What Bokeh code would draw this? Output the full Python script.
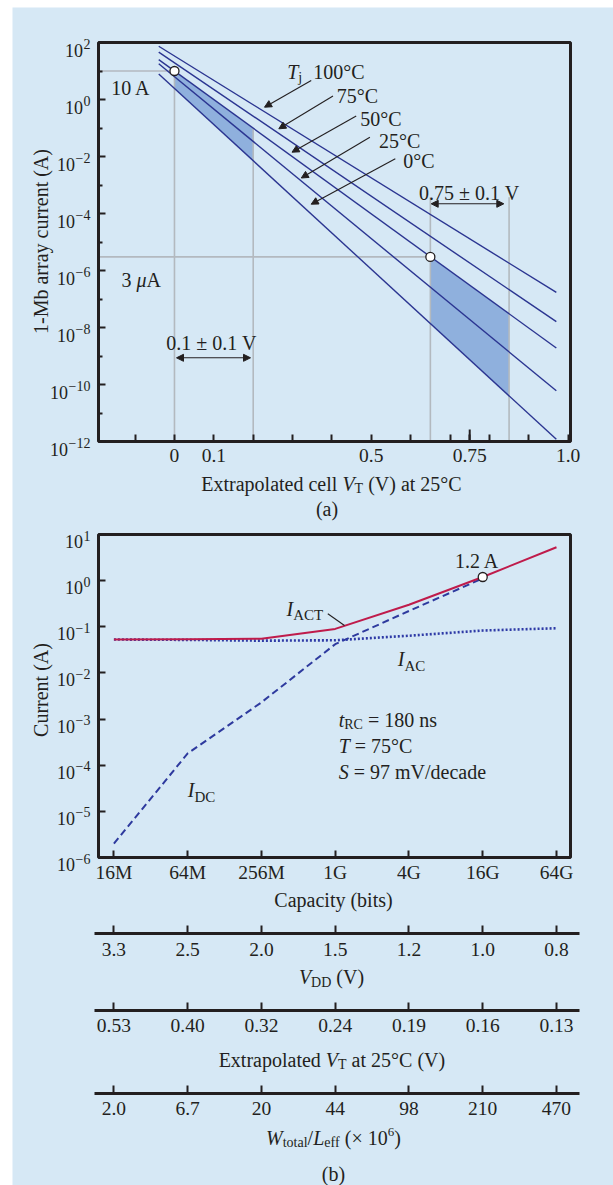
import numpy as np
from bokeh.plotting import figure
from bokeh.layouts import column
from bokeh.models import (Range1d, LogScale, FixedTicker, Label, Arrow, NormalHead,
                          LinearAxis, LogAxis)
from bokeh.embed import file_html
from bokeh.resources import INLINE

# ---------------- (a) subthreshold current of a 1-Mb array ----------------
junction_temps = ["100°C", "75°C", "50°C", "25°C", "0°C"]
vt_sweep = [-0.04, 0.97]                                   # cell V_T at both ends of each line (V)
current_at_sweep_start = [74.0, 46.0, 25.0, 18.0, 7.9]     # A
current_at_sweep_end = [1.7e-7, 1.6e-8, 1.9e-9, 6.0e-11, 1.2e-12]  # A
design_windows = [(0.0, 0.2), (0.65, 0.85)]                # 0.1 ± 0.1 V and 0.75 ± 0.1 V
window_labels = ["0.1 ± 0.1 V", "0.75 ± 0.1 V"]
point_vt = [0.0, 0.65]
point_current = [10.0, 3e-6]
a_major_ticks = [0.0, 0.1, 0.5, 0.75, 1.0]
a_major_labels = ["0", "0.1", "0.5", "0.75", "1.0"]
a_minor_ticks = [-0.1, 0.2, 0.3, 0.4, 0.6, 0.7, 0.8, 0.9]
a_decades = list(range(2, -13, -1))

# ---------------- (b) array current versus DRAM capacity ----------------
capacity = ["16M", "64M", "256M", "1G", "4G", "16G", "64G"]
i_act = [0.053, 0.054, 0.055, 0.090, 0.30, 1.2, 5.3]
i_ac = [0.053, 0.052, 0.050, 0.051, 0.064, 0.083, 0.093]
i_dc = [2.0e-6, 1.8e-4, 2.3e-3, 0.042, 0.22, 1.12]
i_act_marker = 1.2
vdd = ["3.3", "2.5", "2.0", "1.5", "1.2", "1.0", "0.8"]
vt_ext = ["0.53", "0.40", "0.32", "0.24", "0.19", "0.16", "0.13"]
w_over_l = ["2.0", "6.7", "20", "44", "98", "210", "470"]
b_decades = list(range(1, -7, -1))

BG = "#d6e8f5"
INK = "#231f20"
NAVY = "#2b3591"
SHADE = "#8fb0dd"
GUIDE = "#b3b9bf"
CRIMSON = "#bf1b4b"
SERIF = "Liberation Serif"

# page canvas (pixels) and the plot boxes of the two charts on it
CANVAS_X = (12, 613)
CANVAS_Y = (7, 1185)
BOX_A = dict(left=98, right=570, top=42, bottom=441)
BOX_B = dict(left=98, right=570, top=534, bottom=857)
XA, YA = (-0.193, 1.006), (1e-12, 1e2)
XB, YB = (-0.209, 6.19), (1e-6, 1e1)
SCALE_SPAN = (94, 578.6)
SCALE_Y = [933, 1010, 1093]

# Times-compatible advance widths (1/1000 em) for placing rich text pieces
_W = {c: 500 for c in "0123456789"}
_W.update(dict(zip("abcdefghijklmnopqrstuvwxyz",
                   [444, 500, 444, 500, 444, 333, 500, 500, 278, 278, 500, 278, 778,
                    500, 500, 500, 500, 333, 389, 278, 500, 500, 722, 500, 500, 444])))
_W.update(dict(zip("ABCDEFGHIJKLMNOPQRSTUVWXYZ",
                   [722, 667, 667, 722, 611, 556, 722, 722, 333, 389, 722, 611, 889,
                    722, 722, 556, 722, 667, 556, 611, 722, 722, 944, 722, 722, 611])))
_W.update({" ": 250, "(": 333, ")": 333, "-": 333, ".": 250, "/": 278, "=": 564,
           "±": 564, "°": 400, "×": 564, "μ": 500, "−": 564})
_WI = {"I": 333, "T": 556, "V": 611, "W": 833, "S": 500, "L": 556, "t": 278, "μ": 500}


def text_width(s, size, italic=False):
    return sum((_WI[c] if italic and c in _WI else _W.get(c, 500)) for c in s) * size / 1000.0


def line_current(k, v):
    l0 = np.log10(current_at_sweep_start[k])
    l1 = np.log10(current_at_sweep_end[k])
    t = (v - vt_sweep[0]) / (vt_sweep[1] - vt_sweep[0])
    return 10 ** (l0 + t * (l1 - l0))


def stretch(px0, px1, v0, v1, c0, c1):
    """Extend a data interval shown on pixels px0..px1 out to the canvas edges c0..c1."""
    s = (v1 - v0) / (px1 - px0)
    return v0 - (px0 - c0) * s, v1 + (c1 - px1) * s


def stretch_log(py_top, py_bottom, lo, hi):
    a, b = stretch(py_top, py_bottom, np.log10(hi), np.log10(lo), CANVAS_Y[0], CANVAS_Y[1])
    return 10 ** b, 10 ** a


ax_rng = stretch(BOX_A["left"], BOX_A["right"], XA[0], XA[1], *CANVAS_X)
ay_rng = stretch_log(BOX_A["top"], BOX_A["bottom"], *YA)
bx_rng = stretch(BOX_B["left"], BOX_B["right"], XB[0], XB[1], *CANVAS_X)
by_rng = stretch_log(BOX_B["top"], BOX_B["bottom"], *YB)


def b_index_at(px):
    return XB[0] + (px - BOX_B["left"]) / (BOX_B["right"] - BOX_B["left"]) * (XB[1] - XB[0])


p = figure(frame_width=CANVAS_X[1] - CANVAS_X[0], frame_height=CANVAS_Y[1] - CANVAS_Y[0],
           x_range=Range1d(*CANVAS_X), y_range=Range1d(CANVAS_Y[1], CANVAS_Y[0]),
           extra_x_ranges={"a_x": Range1d(*ax_rng), "b_x": Range1d(*bx_rng)},
           extra_y_ranges={"a_y": Range1d(*ay_rng), "b_y": Range1d(*by_rng)},
           extra_y_scales={"a_y": LogScale(), "b_y": LogScale()},
           x_axis_location=None, y_axis_location=None,
           output_backend="svg", toolbar_location=None, min_border=0,
           background_fill_color=BG, border_fill_color=BG, outline_line_color=None)
p.grid.visible = False
A_R = dict(x_range_name="a_x", y_range_name="a_y")
B_R = dict(x_range_name="b_x", y_range_name="b_y")


def text(px, py, s, size=20, italic=False, align="left", angle=0.0):
    lead = len(s) - len(s.lstrip(" "))
    if align == "left":
        px += text_width(" " * lead, size)
    s = s.strip(" ")
    if s:
        p.add_layout(Label(x=px, y=py, text=s, text_font=SERIF, text_font_size=f"{size}px",
                           text_font_style="italic" if italic else "normal", text_color=INK,
                           text_align=align, text_baseline="alphabetic", angle=angle))


def rich(px, py, pieces, align="left"):
    widths = [text_width(s, size, it) for s, size, it, _ in pieces]
    x = px - sum(widths) / 2 if align == "center" else px
    for (s, size, it, dy), w in zip(pieces, widths):
        text(x, py + dy, s, size, it)
        x += w


def arrow(p0, p1, both=False, heads=True):
    def head():
        return NormalHead(size=7, fill_color=INK, line_color=INK, line_width=1)
    p.add_layout(Arrow(x_start=p0[0], y_start=p0[1], x_end=p1[0], y_end=p1[1],
                       end=head() if heads else None, start=head() if both else None,
                       line_color=INK, line_width=1.1))


def decade(exp, right_px, base_py, base=18, sup=14, rise=6):
    e = str(exp).replace("-", "−")
    text(right_px, base_py - rise, e, sup, align="right")
    text(right_px - text_width(e, sup) - 0.5, base_py, "10", base, align="right")


def style_axis(ax, tick_in=7, minor_in=0, standoff=4, size="19.5px"):
    ax.axis_line_color = None
    ax.major_tick_in = tick_in
    ax.major_tick_out = 0
    ax.minor_tick_in = minor_in
    ax.minor_tick_out = 0
    ax.major_tick_line_color = INK
    ax.minor_tick_line_color = INK
    ax.major_tick_line_width = 2
    ax.minor_tick_line_width = 2
    ax.major_label_text_font = SERIF
    ax.major_label_text_font_size = size
    ax.major_label_text_color = INK
    ax.major_label_standoff = standoff


# ======================= panel (a) =======================
for v0, v1 in design_windows:
    p.patch([v0, v1, v1, v0],
            [line_current(2, v0), line_current(2, v1), line_current(4, v1), line_current(4, v0)],
            fill_color=SHADE, line_color=None, **A_R)

guide = dict(line_color=GUIDE, line_width=1.6, **A_R)
p.line([XA[0], point_vt[0]], [point_current[0]] * 2, **guide)
p.line([XA[0], point_vt[1]], [point_current[1]] * 2, **guide)
p.line([point_vt[0]] * 2, [point_current[0], YA[0]], **guide)
p.line([design_windows[0][1]] * 2, [line_current(2, design_windows[0][1]), YA[0]], **guide)
for v in design_windows[1]:
    p.line([v, v], [10 ** -3.43, YA[0]], **guide)

for k in range(len(junction_temps)):
    p.line(vt_sweep, [current_at_sweep_start[k], current_at_sweep_end[k]],
           line_color=NAVY, line_width=1.4, **A_R)

p.scatter(point_vt, point_current, size=9, marker="circle",
          fill_color="white", line_color=INK, line_width=1.3, **A_R)

xa = LinearAxis(x_range_name="a_x", fixed_location=BOX_A["bottom"], bounds=XA,
                ticker=FixedTicker(ticks=a_major_ticks, minor_ticks=a_minor_ticks),
                major_label_overrides={t: s for t, s in zip(a_major_ticks, a_major_labels)})
style_axis(xa, tick_in=7, minor_in=7, standoff=7)
p.add_layout(xa, "below")
p.segment(x0=[a_major_ticks[3]], y0=[YA[0]], x1=[a_major_ticks[3]],
          y1=[YA[0] * 10 ** (12 * 14 / 399)], line_color=INK, line_width=2, **A_R)

even = [e for e in a_decades if e % 2 == 0]
ya = LogAxis(y_range_name="a_y", fixed_location=BOX_A["left"], bounds=YA,
             ticker=FixedTicker(ticks=[10.0 ** e for e in even],
                                minor_ticks=[10.0 ** e for e in a_decades if e % 2 != 0]),
             major_label_overrides={10.0 ** e: "" for e in even})
style_axis(ya, tick_in=7, minor_in=4, standoff=0)
p.add_layout(ya, "left")
for e in even:
    decade(e, 90, BOX_A["top"] + (2 - e) * (BOX_A["bottom"] - BOX_A["top"]) / 14 + 7.5)

p.quad(left=[XA[0]], right=[XA[1]], bottom=[YA[0]], top=[YA[1]],
       fill_color=None, line_color=INK, line_width=3, **A_R)

text(40, 241, "1-Mb array current (A)", 20, align="center", angle=np.pi / 2)
rich(331, 483.3, [("Extrapolated cell ", 20, False, 0), ("V", 20, True, 0),
                  ("T", 14, False, 5), (" (V) at 25°C", 20, False, 0)], align="center")
text(326.5, 508, "(a)", 20, align="center")

text(110.7, 87.7, "10 A", 20)
rich(121, 279, [("3 ", 20, False, 0), ("μ", 20, True, 0), ("A", 20, False, 0)])
text(211, 342.7, window_labels[0], 20, align="center")
text(468.8, 192.7, window_labels[1], 20, align="center")
arrow((176, 357.3), (250, 357.3), both=True)
arrow((430.7, 203.3), (503.3, 203.3), both=True)

rich(286.7, 71.7, [("T", 20, True, 0), ("j", 14, False, 5)])
temp_label_pos = [(312.7, 71.7), (336.2, 95), (359.7, 118.3), (378.4, 140), (402.7, 160)]
temp_arrows = [((310.7, 80), (264, 106.7)), ((332.5, 95.5), (278.3, 128.3)),
               ((355.7, 115.5), (291.5, 151.7)), ((369.4, 136.7), (300.8, 177.5)),
               ((394.8, 158.3), (310.7, 203.7))]
for name, (tx, ty), (a0, a1) in zip(junction_temps, temp_label_pos, temp_arrows):
    text(tx, ty, name, 20)
    arrow(a0, a1)

# ======================= panel (b) =======================
xi = list(range(len(capacity)))
p.line(xi[:len(i_dc)], i_dc, line_color="#2e3a9e", line_width=2, line_dash="7 4", **B_R)
p.line(xi, i_ac, line_color="#2e3aa6", line_width=2.6, line_dash="2 2", **B_R)
p.line(xi, i_act, line_color=CRIMSON, line_width=2, **B_R)
p.scatter([capacity.index("16G")], [i_act_marker], size=9, marker="circle",
          fill_color="white", line_color=INK, line_width=1.3, **B_R)

xb = LinearAxis(x_range_name="b_x", fixed_location=BOX_B["bottom"], bounds=XB,
                ticker=FixedTicker(ticks=xi, minor_ticks=[]),
                major_label_overrides={i: s for i, s in zip(xi, capacity)})
style_axis(xb, tick_in=7, standoff=4)
p.add_layout(xb, "below")

yb = LogAxis(y_range_name="b_y", fixed_location=BOX_B["left"], bounds=YB,
             ticker=FixedTicker(ticks=[10.0 ** e for e in b_decades], minor_ticks=[]),
             major_label_overrides={10.0 ** e: "" for e in b_decades})
style_axis(yb, tick_in=7, standoff=0)
p.add_layout(yb, "left")
for e in b_decades:
    decade(e, 90, BOX_B["top"] + (1 - e) * (BOX_B["bottom"] - BOX_B["top"]) / 7 + 7)

p.quad(left=[XB[0]], right=[XB[1]], bottom=[YB[0]], top=[YB[1]],
       fill_color=None, line_color=INK, line_width=3, **B_R)

text(40, 689.5, "Current (A)", 20, align="center", angle=np.pi / 2)
text(333, 899, "Capacity (bits)", 20, align="center")
text(476.7, 560, f"{i_act_marker} A", 20, align="center")
rich(286, 608.3, [("I", 20, True, 0), ("ACT", 15, False, 6)])
arrow((327.3, 613.3), (344, 625), heads=False)
rich(397.3, 658.3, [("I", 20, True, 0), ("AC", 15, False, 7)])
rich(187.3, 789.3, [("I", 20, True, 0), ("DC", 15, False, 7)])
rich(338.2, 719.3, [("t", 20, True, 0), ("RC", 14, False, 5), (" = 180 ns", 20, False, 0)])
rich(338.2, 745, [("T", 20, True, 0), (" = 75°C", 20, False, 0)])
rich(338.2, 771.7, [("S", 20, True, 0), (" = 97 mV/decade", 20, False, 0)])

# ============ companion scales sharing the capacity axis ============
span = (b_index_at(SCALE_SPAN[0]), b_index_at(SCALE_SPAN[1]))
for labels, y_px, standoff in zip([vdd, vt_ext, w_over_l], SCALE_Y, [9, 8, 8]):
    sc = LinearAxis(x_range_name="b_x", fixed_location=y_px, bounds=span,
                    ticker=FixedTicker(ticks=xi, minor_ticks=[]),
                    major_label_overrides={i: s for i, s in zip(xi, labels)})
    style_axis(sc, tick_in=8, standoff=standoff)
    sc.axis_line_color = INK
    sc.axis_line_width = 3
    p.add_layout(sc, "below")

rich(331, 976.5, [("V", 20, True, 0), ("DD", 14, False, 5), (" (V)", 20, False, 0)],
     align="center")
rich(331.4, 1059.3, [("Extrapolated ", 20, False, 0), ("V", 20, True, 0), ("T", 14, False, 5),
                     (" at 25°C (V)", 20, False, 0)], align="center")
rich(333, 1137.3, [("W", 20, True, 0), ("total", 14, False, 5), ("/", 20, False, 0),
                   ("L", 20, True, 0), ("eff", 14, False, 5), (" (× 10", 20, False, 0),
                   ("6", 13, False, -6), (")", 20, False, 0)], align="center")
text(333, 1173, "(b)", 20, align="center")

page = column(p, margin=(7, 0, 0, 12))
open("out.html", "w").write(file_html(page, INLINE))
